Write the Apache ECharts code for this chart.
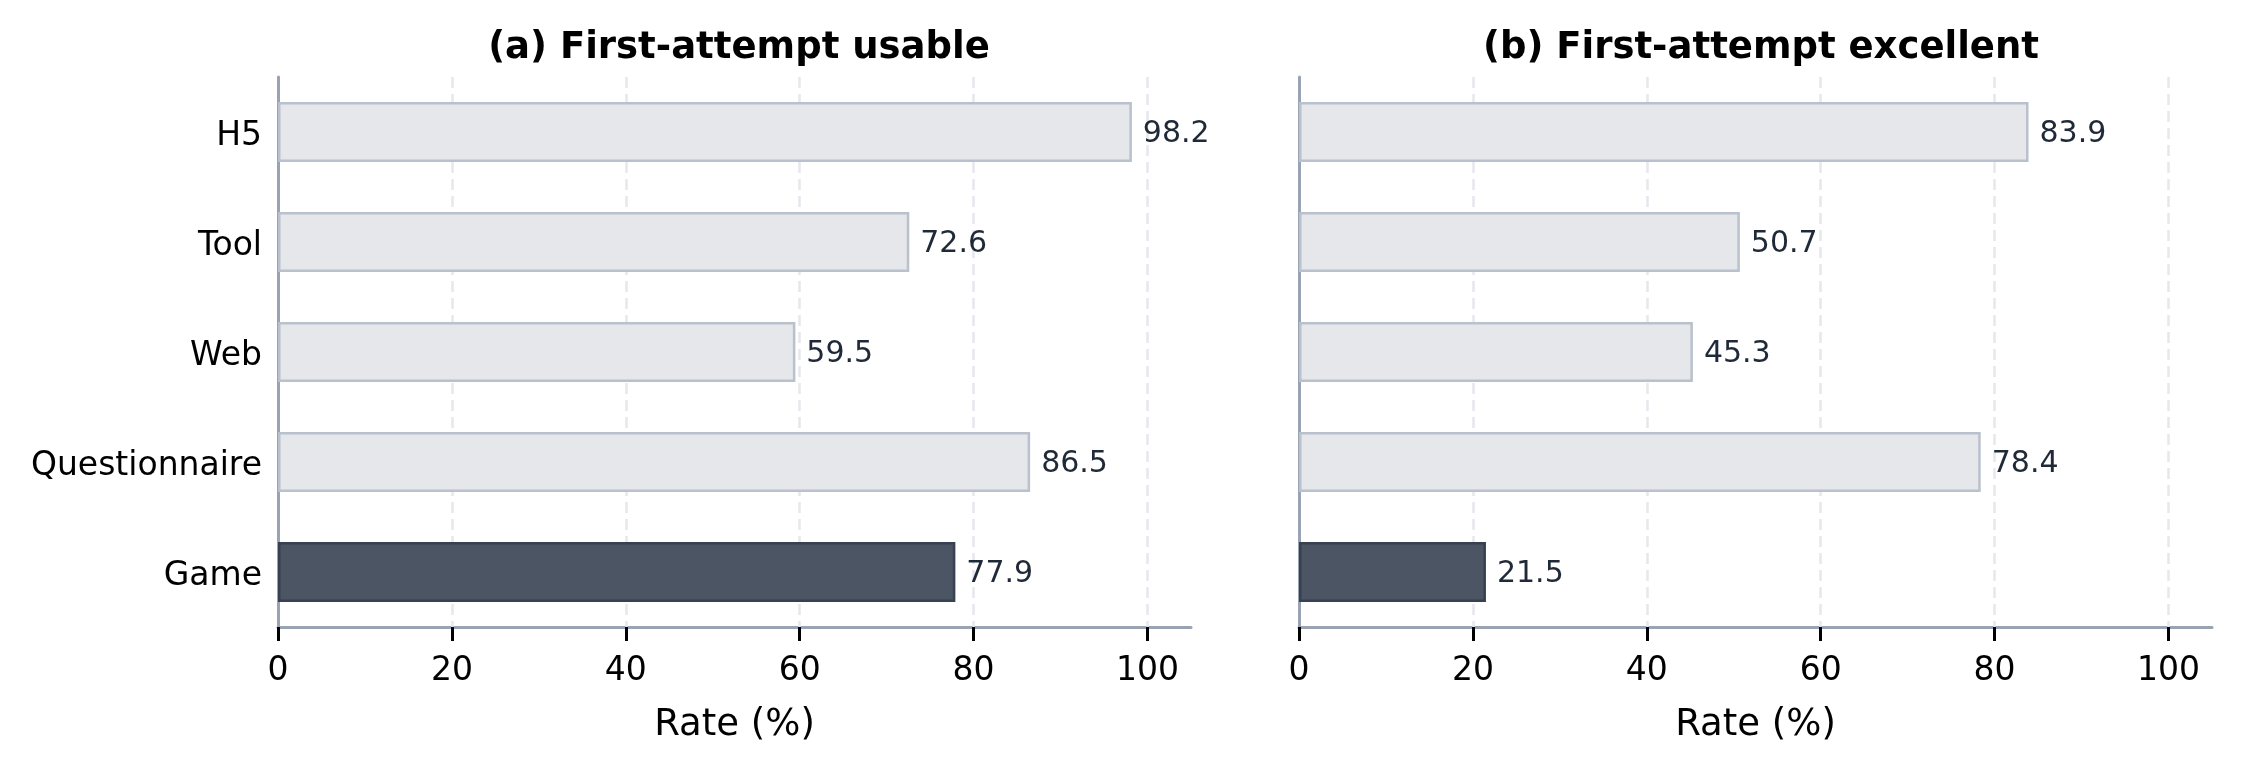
<!DOCTYPE html>
<html>
<head>
<meta charset="utf-8">
<script src="https://cdn.jsdelivr.net/npm/echarts@6/dist/echarts.min.js"></script>
<style>
  html, body { margin: 0; padding: 0; background: #fff; }
  #chart { width: 2241px; height: 772px; }
</style>
</head>
<body>
<div id="chart"></div>
<script>
// data
const categories = ["H5", "Tool", "Web", "Questionnaire", "Game"];
const usableRates = [98.2, 72.6, 59.5, 86.5, 77.9];
const excellentRates = [83.9, 50.7, 45.3, 78.4, 21.5];
const panelTitles = ["(a) First-attempt usable", "(b) First-attempt excellent"];
const xTicks = [0, 20, 40, 60, 80, 100];
const highlightCategory = "Game";

const FONT = "DejaVu Sans";
const AXIS_COLOR = "#9aa3b3";
const GRID_COLOR = "#e6e8ee";

const chart = echarts.init(document.getElementById("chart"), null, { renderer: "canvas" });

function barData(values) {
  return values.map((v, i) => {
    const dark = categories[i] === highlightCategory;
    return {
      value: v,
      itemStyle: dark
        ? { color: "#4b5563", borderColor: "#374151", borderWidth: 2.5 }
        : { color: "#e5e7eb", borderColor: "#b9c1cd", borderWidth: 2.5 }
    };
  });
}

function xAxisFor(idx) {
  return {
    type: "value",
    gridIndex: idx,
    min: 0,
    max: 105,
    interval: 20,
    name: "Rate (%)",
    nameLocation: "middle",
    nameGap: 80,
    nameTextStyle: { fontFamily: FONT, fontSize: 37, color: "#000" },
    axisLine: { show: true, lineStyle: { color: AXIS_COLOR, width: 3 } },
    axisTick: { show: true, length: 14, customValues: xTicks, lineStyle: { color: "#000", width: 3 } },
    axisLabel: { customValues: xTicks, margin: 28, fontFamily: FONT, fontSize: 33, color: "#000" },
    splitLine: { show: false }
  };
}

function yAxisFor(idx, showLabels) {
  return {
    type: "category",
    gridIndex: idx,
    data: categories,
    inverse: true,
    axisLine: { show: true, lineStyle: { color: AXIS_COLOR, width: 3 } },
    axisTick: { show: false },
    axisLabel: {
      show: showLabels,
      margin: 16,
      formatter: (v) => "{cat|" + v + "}",
      rich: {
        cat: { fontFamily: FONT, fontSize: 33, color: "#000", padding: [9, 0, 0, 0] }
      }
    },
    splitLine: { show: false }
  };
}

function seriesFor(idx, values) {
  return {
    type: "bar",
    xAxisIndex: idx,
    yAxisIndex: idx,
    data: barData(values),
    barWidth: 60,
    z: 3,
    animation: false,
    label: {
      show: true,
      position: "right",
      distance: 11,
      offset: [0, 2],
      fontFamily: FONT,
      fontSize: 30,
      color: "#1f2937",
      formatter: (p) => p.value.toFixed(1)
    },
    markLine: {
      silent: true,
      z: 1,
      symbol: ["none", "none"],
      label: { show: false },
      lineStyle: { color: GRID_COLOR, width: 2.5, type: [11, 6] },
      data: xTicks.filter((t) => t > 0).map((t) => ({ xAxis: t }))
    }
  };
}

const option = {
  backgroundColor: "#ffffff",
  animation: false,
  title: [
    {
      text: panelTitles[0],
      left: 734,
      top: 25,
      textAlign: "center",
      textStyle: { fontFamily: FONT, fontSize: 37, fontWeight: "bold", color: "#000" }
    },
    {
      text: panelTitles[1],
      left: 1756,
      top: 25,
      textAlign: "center",
      textStyle: { fontFamily: FONT, fontSize: 37, fontWeight: "bold", color: "#000" }
    }
  ],
  grid: [
    { left: 278, top: 77, width: 913, height: 550 },
    { left: 1299, top: 77, width: 913, height: 550 }
  ],
  xAxis: [xAxisFor(0), xAxisFor(1)],
  yAxis: [yAxisFor(0, true), yAxisFor(1, false)],
  series: [seriesFor(0, usableRates), seriesFor(1, excellentRates)]
};

chart.setOption(option);
</script>
</body>
</html>
